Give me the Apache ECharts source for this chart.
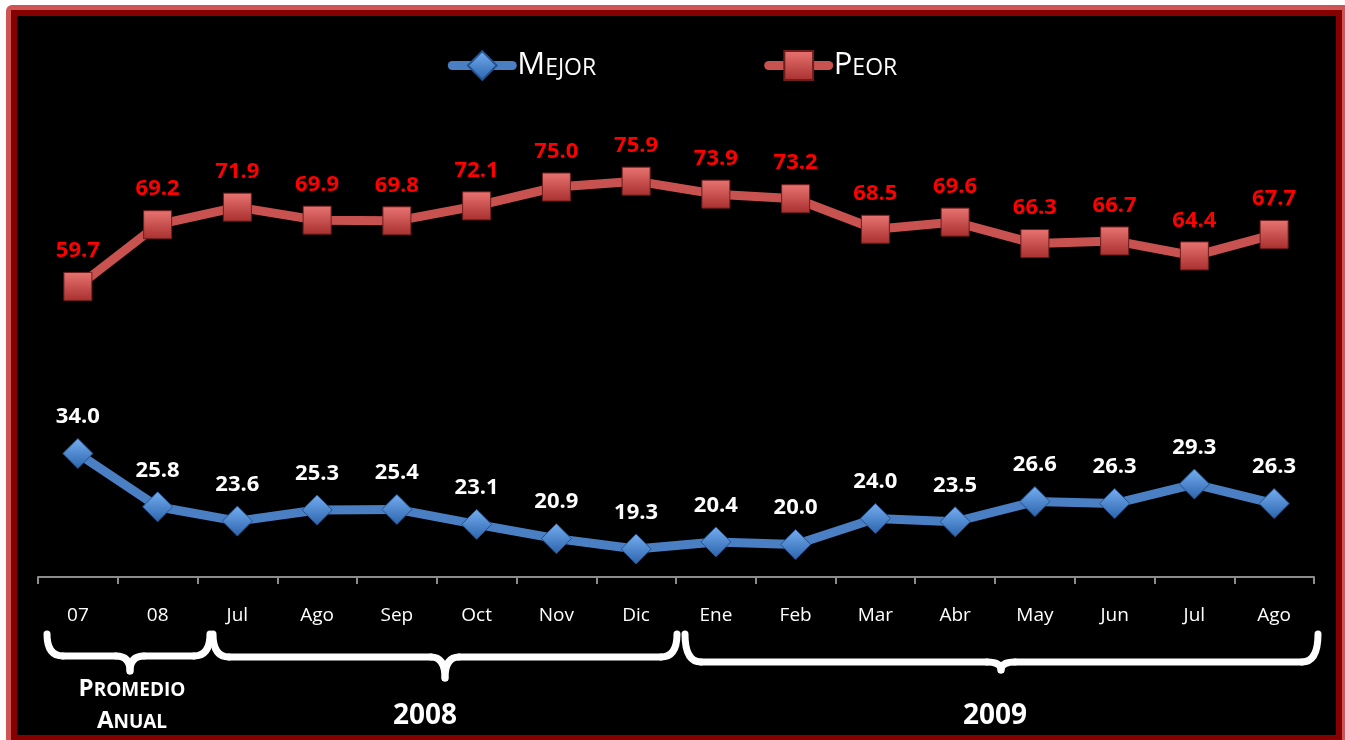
<!DOCTYPE html>
<html>
<head>
<meta charset="utf-8">
<script src="https://cdn.jsdelivr.net/npm/echarts@6/dist/echarts.min.js"></script>
<style>
html, body { margin: 0; padding: 0; background: #fff; }
.frame1 { position: absolute; left: 6px; top: 5px; width: 1339px; height: 735px; background: #cf5555; border-top-left-radius: 6px; }
.frame2 { position: absolute; left: 11px; top: 10px; width: 1331px; height: 730px; background: #850000; }
.inner { position: absolute; left: 17px; top: 16px; width: 1319px; height: 719px; background: #000; }
#chart { position: absolute; left: 0; top: 0; width: 1345px; height: 740px; }
</style>
</head>
<body>
<div class="frame1"></div>
<div class="frame2"></div>
<div class="inner"></div>
<div id="chart"></div>
<script>
// categorias del eje x
var categories = ['07', '08', 'Jul', 'Ago', 'Sep', 'Oct', 'Nov', 'Dic', 'Ene', 'Feb', 'Mar', 'Abr', 'May', 'Jun', 'Jul', 'Ago'];
var mejor = [34.0, 25.8, 23.6, 25.3, 25.4, 23.1, 20.9, 19.3, 20.4, 20.0, 24.0, 23.5, 26.6, 26.3, 29.3, 26.3];
var peor = [59.7, 69.2, 71.9, 69.9, 69.8, 72.1, 75.0, 75.9, 73.9, 73.2, 68.5, 69.6, 66.3, 66.7, 64.4, 67.7];

var font = '"Open Sans", "Noto Sans", sans-serif';

// llave horizontal (abre hacia arriba, punta hacia abajo)
function brace(xL, xR, xm, yT, yH, yM) {
    var r = 16, t = 14;
    var st = { fill: null, stroke: '#fff', lineWidth: 7, lineCap: 'round' };
    return {
        type: 'group',
        children: [
            { type: 'bezierCurve', shape: { x1: xL, y1: yT, cpx1: xL, cpy1: yH, x2: xL + r, y2: yH }, style: st },
            { type: 'line', shape: { x1: xL + r, y1: yH, x2: xm - t, y2: yH }, style: st },
            { type: 'bezierCurve', shape: { x1: xm - t, y1: yH, cpx1: xm, cpy1: yH, x2: xm, y2: yM }, style: st },
            { type: 'bezierCurve', shape: { x1: xm, y1: yM, cpx1: xm, cpy1: yH, x2: xm + t, y2: yH }, style: st },
            { type: 'line', shape: { x1: xm + t, y1: yH, x2: xR - r, y2: yH }, style: st },
            { type: 'bezierCurve', shape: { x1: xR - r, y1: yH, cpx1: xR, cpy1: yH, x2: xR, y2: yT }, style: st }
        ]
    };
}

var chart = echarts.init(document.getElementById('chart'));

var option = {
    backgroundColor: 'transparent',
    animation: false,
    legend: {
        top: 45,
        left: 'center',
        itemWidth: 60,
        itemHeight: 36,
        itemGap: 168,
        data: ['Mejor', 'Peor'],
        lineStyle: { width: 9, cap: 'round' },
        formatter: function (name) {
            return '{b|' + name.charAt(0).toUpperCase() + '}{s|' + name.slice(1).toUpperCase() + '}';
        },
        textStyle: {
            color: '#fff',
            fontFamily: font,
            rich: {
                b: { fontSize: 31, color: '#fff', fontFamily: font },
                s: { fontSize: 23, color: '#fff', fontFamily: font, padding: [5, 0, 0, 0] }
            }
        }
    },
    grid: {
        left: 38,
        right: 31,
        top: 154.5,
        bottom: 163
    },
    xAxis: {
        type: 'category',
        boundaryGap: true,
        data: categories,
        axisLine: { show: true, lineStyle: { color: '#8c8c8c', width: 2 } },
        axisTick: { show: true, length: 7, lineStyle: { color: '#8c8c8c', width: 2 } },
        axisLabel: { color: '#fff', fontSize: 19, fontFamily: font, margin: 29 }
    },
    yAxis: {
        type: 'value',
        min: 15,
        max: 80,
        show: false,
        splitLine: { show: false }
    },
    series: [
        {
            name: 'Mejor',
            type: 'line',
            data: mejor,
            symbol: 'diamond',
            symbolSize: [30, 30],
            lineStyle: { color: '#4a7fc4', width: 9 },
            itemStyle: {
                color: {
                    type: 'linear', x: 0, y: 0, x2: 0, y2: 1,
                    colorStops: [{ offset: 0, color: '#75aef0' }, { offset: 1, color: '#2c64ad' }]
                },
                borderColor: '#24528e',
                borderWidth: 1
            },
            label: {
                show: true,
                position: 'top',
                distance: 10,
                color: '#fff',
                fontWeight: 'bold',
                fontSize: 22,
                fontFamily: font,
                formatter: function (p) { return p.value.toFixed(1); }
            }
        },
        {
            name: 'Peor',
            type: 'line',
            data: peor,
            symbol: 'rect',
            symbolSize: 28,
            lineStyle: { color: '#c8524f', width: 9 },
            itemStyle: {
                color: {
                    type: 'linear', x: 0, y: 0, x2: 0, y2: 1,
                    colorStops: [{ offset: 0, color: '#e87472' }, { offset: 1, color: '#a8302e' }]
                },
                borderColor: '#6e1c1c',
                borderWidth: 1
            },
            label: {
                show: true,
                position: 'top',
                distance: 10,
                color: '#ff0000',
                fontWeight: 'bold',
                fontSize: 22,
                fontFamily: font,
                formatter: function (p) { return p.value.toFixed(1); }
            }
        }
    ],
    graphic: [
        brace(47, 210, 130, 634, 656, 671),
        brace(213, 677, 445, 634, 657, 678),
        brace(685, 1318, 1001, 634, 662, 670),
        {
            type: 'text',
            x: 132, y: 689,
            style: {
                text: '{b|P}{s|ROMEDIO}',
                align: 'center', verticalAlign: 'middle',
                rich: {
                    b: { fontSize: 24, fontWeight: 'bold', fill: '#fff', fontFamily: font },
                    s: { fontSize: 19, fontWeight: 'bold', fill: '#fff', fontFamily: font, padding: [4, 0, 0, 0] }
                }
            }
        },
        {
            type: 'text',
            x: 132, y: 721,
            style: {
                text: '{b|A}{s|NUAL}',
                align: 'center', verticalAlign: 'middle',
                rich: {
                    b: { fontSize: 24, fontWeight: 'bold', fill: '#fff', fontFamily: font },
                    s: { fontSize: 19, fontWeight: 'bold', fill: '#fff', fontFamily: font, padding: [4, 0, 0, 0] }
                }
            }
        },
        {
            type: 'text',
            x: 425, y: 716,
            style: { text: '2008', align: 'center', verticalAlign: 'middle', fill: '#fff', font: 'bold 28px ' + font }
        },
        {
            type: 'text',
            x: 995, y: 716,
            style: { text: '2009', align: 'center', verticalAlign: 'middle', fill: '#fff', font: 'bold 28px ' + font }
        }
    ]
};

chart.setOption(option);
</script>
</body>
</html>
